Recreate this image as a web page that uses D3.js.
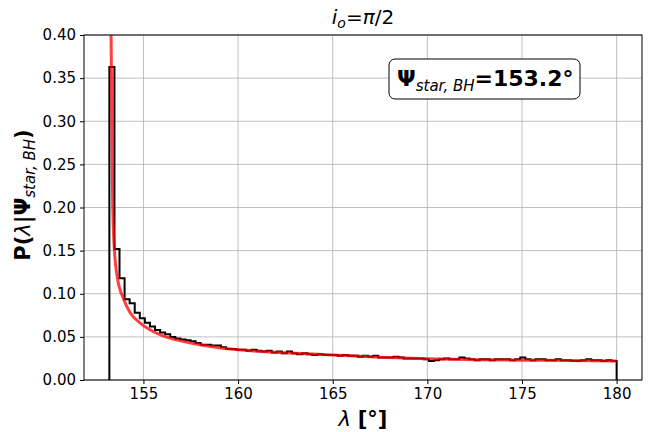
<!DOCTYPE html>
<html><head><meta charset="utf-8">
<script src="https://cdn.jsdelivr.net/npm/d3@7"></script>
<style>body{margin:0;background:#fff} text{font-family:"DejaVu Sans",sans-serif}</style>
</head><body><svg id="c" width="648" height="432"></svg>
<script>
// ---- data ----
const binStart = 153.2, binEnd = 180.0;
const histValues = [
  0.363, 0.152, 0.118, 0.0935, 0.089, 0.078, 0.0715, 0.0665, 0.062, 0.058,
  0.055, 0.053, 0.050, 0.048, 0.047, 0.046, 0.045, 0.043, 0.041, 0.041,
  0.040, 0.040, 0.038, 0.036, 0.036, 0.035, 0.035, 0.034, 0.035, 0.034,
  0.033, 0.034, 0.032, 0.033, 0.031, 0.033, 0.031, 0.030, 0.031, 0.030,
  0.029, 0.030, 0.029, 0.029, 0.029, 0.028, 0.029, 0.028, 0.028, 0.027,
  0.028, 0.027, 0.028, 0.026, 0.026, 0.026, 0.027, 0.026, 0.025, 0.025,
  0.025, 0.025, 0.024, 0.022, 0.023, 0.024, 0.025, 0.024, 0.024, 0.026,
  0.025, 0.024, 0.023, 0.024, 0.024, 0.023, 0.024, 0.024, 0.024, 0.023,
  0.024, 0.026, 0.024, 0.023, 0.024, 0.024, 0.023, 0.023, 0.024, 0.023,
  0.023, 0.022, 0.022, 0.023, 0.024, 0.023, 0.023, 0.022, 0.023, 0.022
];
const curveX = [153.21, 153.25, 153.29, 153.35, 153.38, 153.47, 153.63, 153.95, 154.3, 154.83, 155.54, 156.4, 157.5, 159.1, 161.2, 163.0, 165.0, 167.5, 170.0, 172.5, 175.0, 177.5, 180.0];
const curveY = [0.60, 0.45, 0.40, 0.25, 0.20, 0.15, 0.118, 0.094, 0.078, 0.066, 0.056, 0.0485, 0.043, 0.037, 0.033, 0.031, 0.029, 0.0265, 0.0245, 0.0235, 0.023, 0.0225, 0.022];
const xTicks = [155, 160, 165, 170, 175, 180];
const yTicks = [0, 0.05, 0.10, 0.15, 0.20, 0.25, 0.30, 0.35, 0.40];
const xDomain = [151.86, 181.34];
const yDomain = [0, 0.4];

// ---- chart ----
const svg = d3.select("#c");
const L = 84, R = 642, T = 35, B = 380;
const x = d3.scaleLinear().domain(xDomain).range([L, R]);
const y = d3.scaleLinear().domain(yDomain).range([B, T]);

svg.append("defs").append("clipPath").attr("id", "clip")
  .append("rect").attr("x", L).attr("y", T).attr("width", R - L).attr("height", B - T);

// grid
const grid = svg.append("g").attr("stroke", "#b0b0b0").attr("stroke-width", 0.8);
xTicks.forEach(t => grid.append("line").attr("x1", x(t)).attr("x2", x(t)).attr("y1", T).attr("y2", B));
yTicks.forEach(t => grid.append("line").attr("x1", L).attr("x2", R).attr("y1", y(t)).attr("y2", y(t)));

// histogram step
const n = histValues.length, w = (binEnd - binStart) / n;
const pts = [[binStart, 0]];
histValues.forEach((v, i) => { pts.push([binStart + i * w, v]); pts.push([binStart + (i + 1) * w, v]); });
pts.push([binEnd, 0]);
svg.append("path").attr("clip-path", "url(#clip)")
  .attr("d", d3.line().x(d => x(d[0])).y(d => y(d[1]))(pts))
  .attr("fill", "none").attr("stroke", "#000").attr("stroke-width", 2).attr("stroke-linejoin", "miter");

// curve
svg.append("path").attr("clip-path", "url(#clip)")
  .attr("d", d3.line().x((d, i) => x(curveX[i])).y(d => y(d)).curve(d3.curveMonotoneX)(curveY))
  .attr("fill", "none").attr("stroke", "#f00").attr("stroke-opacity", 0.75).attr("stroke-width", 3);

// axes
const xa = svg.append("g").attr("transform", `translate(0,${B})`)
  .call(d3.axisBottom(x).tickValues(xTicks).tickFormat(d3.format("d")).tickSize(4).tickPadding(4));
const ya = svg.append("g").attr("transform", `translate(${L},0)`)
  .call(d3.axisLeft(y).tickValues(yTicks).tickFormat(d3.format(".2f")).tickSize(4).tickPadding(4));
[xa, ya].forEach(a => {
  a.select(".domain").remove();
  a.selectAll("text").attr("font-size", 15).attr("font-family", "DejaVu Sans").attr("fill", "#000");
  a.selectAll("line").attr("stroke", "#000");
});
svg.append("rect").attr("x", L).attr("y", T).attr("width", R - L).attr("height", B - T)
  .attr("fill", "none").attr("stroke", "#000").attr("stroke-width", 1);

// title
const title = svg.append("text").attr("x", (L + R) / 2).attr("y", 24).attr("text-anchor", "middle").attr("font-size", 20);
title.append("tspan").attr("font-style", "italic").text("i");
title.append("tspan").attr("font-style", "italic").attr("font-size", 14).attr("dy", 4).text("o");
title.append("tspan").attr("dy", -4).text("=");
title.append("tspan").attr("font-style", "italic").text("π");
title.append("tspan").text("/2");

// x label
const xl = svg.append("text").attr("x", (L + R) / 2).attr("y", 426).attr("text-anchor", "middle").attr("font-size", 21);
xl.append("tspan").attr("font-style", "italic").text("λ ");
xl.append("tspan").attr("font-weight", "bold").text("[°]");

// y label
const yl = svg.append("text").attr("transform", "translate(30,195) rotate(-90)").attr("text-anchor", "middle").attr("font-size", 21).attr("font-weight", "bold");
yl.append("tspan").text("P(");
yl.append("tspan").attr("font-style", "italic").attr("font-weight", "normal").text("λ");
yl.append("tspan").text("|Ψ");
yl.append("tspan").attr("font-style", "italic").attr("font-weight", "normal").attr("font-size", 15).attr("dy", 5).text("star, BH");
yl.append("tspan").attr("dy", -5).text(")");

// annotation box
svg.append("rect").attr("x", 389).attr("y", 59).attr("width", 191).attr("height", 40).attr("rx", 6)
  .attr("fill", "#fff").attr("stroke", "#000").attr("stroke-width", 1);
const an = svg.append("text").attr("x", 397).attr("y", 86).attr("font-size", 22).attr("font-weight", "bold");
an.append("tspan").text("Ψ");
an.append("tspan").attr("font-style", "italic").attr("font-weight", "normal").attr("font-size", 15).attr("dy", 5).text("star, BH");
an.append("tspan").attr("dy", -5).text("=153.2°");
</script></body></html>
